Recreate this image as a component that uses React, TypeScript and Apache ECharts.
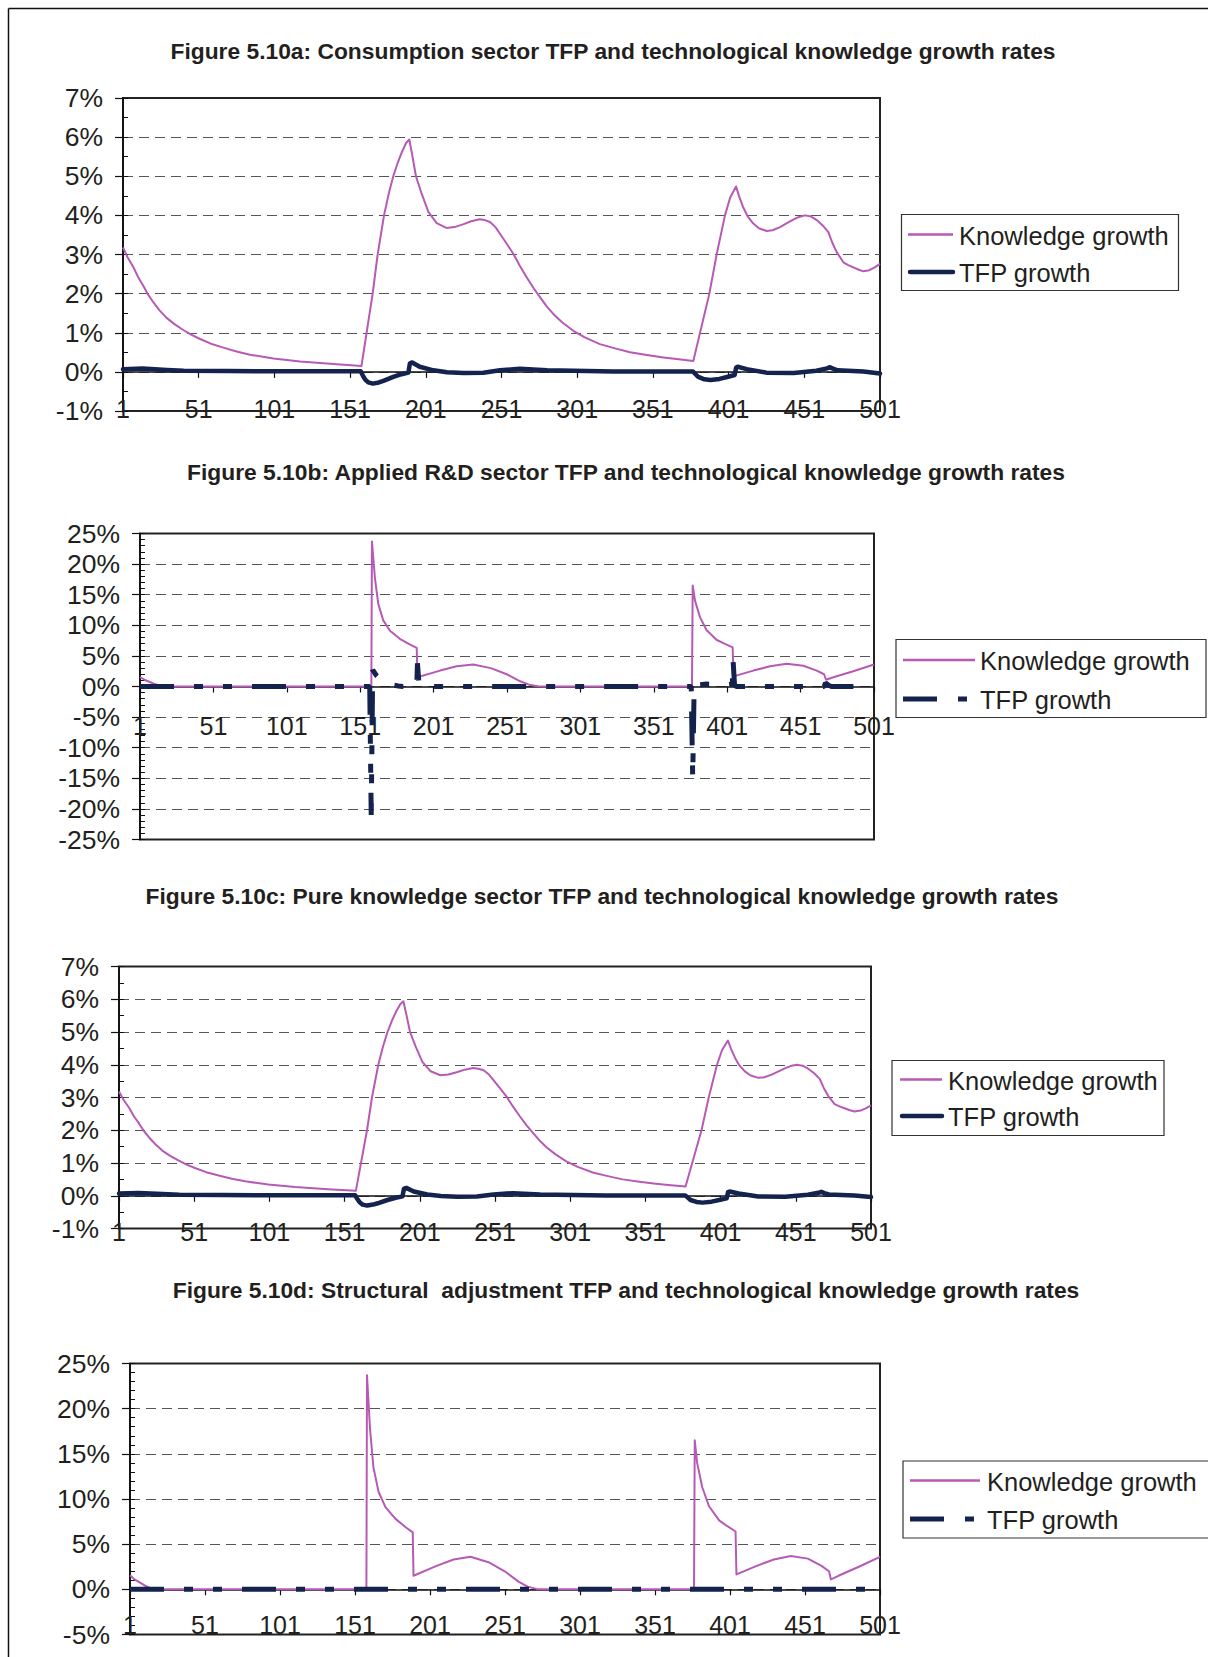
import React, { useEffect, useRef } from "react";
import * as echarts from "echarts";

// ---------- DATA (period, growth rate in %) ----------
const periodMin = 1;
const periodMax = 501;
const periodStep = 50;

const legendLabels = ["Knowledge growth", "TFP growth"];

const figureTitles = [
  "Figure 5.10a: Consumption sector TFP and technological knowledge growth rates",
  "Figure 5.10b: Applied R&D sector TFP and technological knowledge growth rates",
  "Figure 5.10c: Pure knowledge sector TFP and technological knowledge growth rates",
  "Figure 5.10d: Structural  adjustment TFP and technological knowledge growth rates",
];

const knowledgeConsumption: [number, number][] = [
  [1, 3.18], [4, 2.93], [7.8, 2.68], [11, 2.42], [14.4, 2.2], [17.5, 1.98], [21, 1.78], [25, 1.58],
  [29.8, 1.38], [35, 1.22], [40.8, 1.07], [46, 0.95], [51.9, 0.84], [59, 0.72], [67.3, 0.62],
  [76, 0.52], [84.9, 0.44], [100.3, 0.34], [118, 0.265], [140, 0.2], [158.5, 0.15],
  [165.9, 2.0], [169.2, 3.0], [173.4, 4.0], [176.5, 4.55], [179.5, 5.0], [182.5, 5.35], [185, 5.6],
  [188, 5.85], [190.1, 5.94], [192, 5.55], [194.5, 5.0], [198.2, 4.56], [202.7, 4.09], [208.2, 3.8],
  [214.6, 3.68], [220, 3.7], [225.5, 3.77], [231, 3.85], [236.5, 3.9], [240, 3.88], [243.4, 3.83],
  [247, 3.7], [250, 3.53], [254, 3.3], [258.8, 3.02], [263, 2.72], [267.6, 2.42], [272, 2.15],
  [276.4, 1.91], [281, 1.67], [285.2, 1.48], [291, 1.27], [298.4, 1.05], [306, 0.88], [316, 0.71],
  [326, 0.6], [335.9, 0.5], [347, 0.43], [357.9, 0.37], [368, 0.32], [377.7, 0.28],
  [388.3, 2.0], [393.1, 3.0], [398.6, 4.0], [402, 4.45], [405.9, 4.74], [408, 4.48], [410.7, 4.2],
  [413.5, 3.98], [417.3, 3.79], [421, 3.67], [426.2, 3.6], [430, 3.62], [435, 3.7], [439.5, 3.8],
  [443.7, 3.89], [447.5, 3.96], [451.5, 4.0], [455.5, 3.97], [459.2, 3.88], [463, 3.75],
  [466.9, 3.57], [469.5, 3.3], [472.4, 3.06], [476.8, 2.8], [480, 2.73], [483.4, 2.67],
  [487, 2.61], [490, 2.57], [494, 2.6], [497.5, 2.67], [501, 2.76],
];

const tfpConsumption: [number, number][] = [
  [1, 0.07], [14, 0.085], [30, 0.05], [41, 0.03], [70, 0.02], [120, 0.015], [158, 0.015],
  [159.5, -0.1], [161, -0.2], [163, -0.27], [166, -0.3], [170, -0.27], [173, -0.23], [179.5, -0.13],
  [185, -0.06], [189.5, -0.02], [190.5, 0.22], [192, 0.24], [197, 0.13], [206, 0.04], [215, -0.01],
  [226, -0.03], [239, -0.02], [250, 0.04], [263, 0.08], [281, 0.04], [325, 0.01], [377.5, 0.01],
  [379, -0.05], [381, -0.13], [385, -0.19], [389, -0.21], [395, -0.18], [400, -0.13], [405, -0.08],
  [406, 0.11], [407, 0.13], [413, 0.07], [426, -0.02], [444, -0.03], [459, 0.03], [466, 0.09],
  [468, 0.12], [470, 0.08], [473, 0.04], [490, 0.01], [501, -0.04],
];

const knowledgeAppliedRD: [number, number][] = [
  [1, 1.55], [4, 1.1], [7.7, 0.74], [11, 0.4], [14, 0.18], [18, 0.05], [22, 0], [158.6, 0],
  [159, 23.7], [161, 17.8], [163.3, 13.5], [166.7, 10.8], [171.3, 9.1], [178, 7.8], [185, 6.85],
  [189.5, 6.3], [190, 1.5], [205.4, 2.6], [216.7, 3.3], [228, 3.6], [240, 3.0], [250.8, 2.0],
  [260, 0.85], [266, 0.3], [272, 0.05], [278, 0], [377, 0], [377.5, 16.5], [379.1, 14.0],
  [382.5, 11.3], [387, 9.2], [393.9, 7.6], [399.5, 6.96], [404.7, 6.4], [405.3, 1.65],
  [418.8, 2.6], [430.2, 3.3], [441.5, 3.7], [452.9, 3.4], [462, 2.6], [467, 2.0], [468.3, 1.1],
  [473.3, 1.5], [486.9, 2.5], [501, 3.6],
];

const tfpAppliedRD: [number, number][] = [
  [1, 0], [157.5, 0], [158.5, -21], [159.5, 2.7], [162, 1.8], [165.5, 1.0], [171, 0.33],
  [177, 0.08], [180, 0], [189.5, 0], [190, 3.8], [191, 0.6], [192, 0], [376.5, 0], [377.5, -15],
  [378.5, 0.2], [387, 0.4], [401, 0.3], [404.5, 0.4], [405, 4.3], [406, 0.3], [407, 0],
  [467, 0], [468, 0.6], [470, 0.2], [472, 0], [501, 0],
];

const knowledgePure: [number, number][] = knowledgeConsumption.map(([p, v]) => [p, v]);
const tfpPure: [number, number][] = tfpConsumption.map(([p, v]) => [p, v]);

const knowledgeStructural: [number, number][] = knowledgeAppliedRD.map(([p, v]) => [p, v]);
const tfpStructural: [number, number][] = [[1, 0], [501, 0]];

// ---------- STYLE / LAYOUT ----------
const FONT = '"Liberation Sans", Arial, Helvetica, sans-serif';
const TEXT = "#231F20";
const KCOLOR = "#B65AB6";
const TCOLOR = "#14224E";
const DASH = [34, 20, 9, 20, 9, 20];

type Panel = {
  title: string;
  titleX: number;
  titleY: number;
  grid: { left: number; top: number; width: number; height: number };
  yMin: number;
  yMax: number;
  yStep: number;
  minorStep: number;
  knowledge: [number, number][];
  tfp: [number, number][];
  dashed: boolean;
  labelMargin: number;
  legend: {
    x: number; y: number; w: number; h: number;
    l1: number; l2: number; tx: number; r1: number; r2: number;
  };
};

const panels: Panel[] = [
  {
    title: figureTitles[0], titleX: 613, titleY: 51,
    grid: { left: 123, top: 98, width: 757, height: 313 },
    yMin: -1, yMax: 7, yStep: 1, minorStep: 0.5,
    knowledge: knowledgeConsumption, tfp: tfpConsumption, dashed: false, labelMargin: -15,
    legend: { x: 901.5, y: 214.5, w: 277, h: 76, l1: 908, l2: 953, tx: 959, r1: 234.5, r2: 272 },
  },
  {
    title: figureTitles[1], titleX: 626, titleY: 472,
    grid: { left: 140, top: 533.5, width: 734, height: 306 },
    yMin: -25, yMax: 25, yStep: 5, minorStep: 1,
    knowledge: knowledgeAppliedRD, tfp: tfpAppliedRD, dashed: true, labelMargin: -126,
    legend: { x: 896, y: 639.5, w: 310, h: 78, l1: 903, l2: 975, tx: 980, r1: 660, r2: 699 },
  },
  {
    title: figureTitles[2], titleX: 602, titleY: 896,
    grid: { left: 119, top: 966.5, width: 752, height: 262 },
    yMin: -1, yMax: 7, yStep: 1, minorStep: 0.5,
    knowledge: knowledgePure, tfp: tfpPure, dashed: false, labelMargin: -9,
    legend: { x: 892, y: 1060.5, w: 272, h: 75, l1: 900, l2: 942, tx: 948, r1: 1079.5, r2: 1116 },
  },
  {
    title: figureTitles[3], titleX: 626, titleY: 1290,
    grid: { left: 130, top: 1363.5, width: 750, height: 271 },
    yMin: -5, yMax: 25, yStep: 5, minorStep: 1,
    knowledge: knowledgeStructural, tfp: tfpStructural, dashed: true, labelMargin: -22,
    legend: { x: 903, y: 1461, w: 330, h: 77, l1: 910, l2: 980, tx: 987, r1: 1480.5, r2: 1519 },
  },
];

function buildOption() {
  const grids: any[] = [];
  const xAxes: any[] = [];
  const yAxes: any[] = [];
  const series: any[] = [];
  const graphics: any[] = [];

  graphics.push({
    type: "line", silent: true,
    shape: { x1: 8.5, y1: 8.5, x2: 1208, y2: 8.5 },
    style: { stroke: "#111", lineWidth: 1.5 },
  });
  graphics.push({
    type: "line", silent: true,
    shape: { x1: 8.5, y1: 8.5, x2: 8.5, y2: 1657 },
    style: { stroke: "#111", lineWidth: 1.5 },
  });

  panels.forEach((p, i) => {
    grids.push({
      left: p.grid.left, top: p.grid.top, width: p.grid.width, height: p.grid.height,
      show: true, borderColor: "#222", borderWidth: 2, backgroundColor: "#fff",
      containLabel: false,
    });
    xAxes.push({
      gridIndex: i, type: "value", min: periodMin, max: periodMax, interval: periodStep,
      axisLine: { show: true, onZero: true, lineStyle: { color: "#111", width: 1.5 } },
      axisTick: { show: true, length: 6, lineStyle: { color: "#111", width: 1.2 } },
      axisLabel: {
        show: true, margin: p.labelMargin, fontSize: 25, fontFamily: FONT, color: TEXT,
        formatter: (v: number) => String(v),
      },
      splitLine: { show: false },
    });
    yAxes.push({
      gridIndex: i, type: "value", position: "left", min: p.yMin, max: p.yMax, interval: p.yStep,
      axisLine: { show: true, onZero: false, lineStyle: { color: "#111", width: 1.5 } },
      axisTick: { show: true, length: 8, lineStyle: { color: "#111", width: 1.2 } },
      axisLabel: {
        show: true, margin: 20, fontSize: 26.5, fontFamily: FONT, color: TEXT,
        formatter: (v: number) => `${v}%`,
      },
      splitLine: {
        show: true, showMinLine: false, showMaxLine: false,
        lineStyle: { color: "#555", width: 1, type: [10, 6] },
      },
    });
    yAxes.push({
      gridIndex: i, type: "value", position: "left", min: p.yMin, max: p.yMax, interval: p.minorStep,
      axisLine: { show: false, onZero: false },
      axisTick: { show: true, inside: true, length: 5, lineStyle: { color: "#111", width: 1 } },
      axisLabel: { show: false },
      splitLine: { show: false },
    });
    series.push({
      type: "line", name: legendLabels[0], xAxisIndex: i, yAxisIndex: 2 * i,
      data: p.knowledge, symbol: "none", showSymbol: false, silent: true, z: 3,
      lineStyle: { color: KCOLOR, width: 2, join: "round" },
    });
    series.push({
      type: "line", name: legendLabels[1], xAxisIndex: i, yAxisIndex: 2 * i,
      data: p.tfp, symbol: "none", showSymbol: false, silent: true, z: 4,
      lineStyle: p.dashed
        ? { color: TCOLOR, width: 5, type: DASH, cap: "butt" }
        : { color: TCOLOR, width: 4.5, cap: "round", join: "round" },
    });

    // title
    graphics.push({
      type: "text", silent: true, x: p.titleX, y: p.titleY,
      style: {
        text: p.title, fontSize: 22.8, fontWeight: "bold", fontFamily: FONT, fill: TEXT,
        align: "center", verticalAlign: "middle",
      },
    });
    // legend
    const L = p.legend;
    graphics.push({
      type: "rect", silent: true,
      shape: { x: L.x, y: L.y, width: L.w, height: L.h },
      style: { fill: "#fff", stroke: "#333", lineWidth: 1.2 },
    });
    graphics.push({
      type: "line", silent: true,
      shape: { x1: L.l1, y1: L.r1, x2: L.l2, y2: L.r1 },
      style: { stroke: KCOLOR, lineWidth: 2.5 },
    });
    if (p.dashed) {
      graphics.push({
        type: "line", silent: true,
        shape: { x1: L.l1, y1: L.r2, x2: L.l1 + 34, y2: L.r2 },
        style: { stroke: TCOLOR, lineWidth: 5 },
      });
      graphics.push({
        type: "line", silent: true,
        shape: { x1: L.l1 + 55, y1: L.r2, x2: L.l1 + 64, y2: L.r2 },
        style: { stroke: TCOLOR, lineWidth: 5 },
      });
    } else {
      graphics.push({
        type: "line", silent: true,
        shape: { x1: L.l1 + 2, y1: L.r2, x2: L.l2, y2: L.r2 },
        style: { stroke: TCOLOR, lineWidth: 4.5, lineCap: "round" },
      });
    }
    graphics.push({
      type: "text", silent: true, x: L.tx, y: L.r1 + 1,
      style: { text: legendLabels[0], fontSize: 25.5, fontFamily: FONT, fill: TEXT, align: "left", verticalAlign: "middle" },
    });
    graphics.push({
      type: "text", silent: true, x: L.tx, y: L.r2 + 1,
      style: { text: legendLabels[1], fontSize: 25.5, fontFamily: FONT, fill: TEXT, align: "left", verticalAlign: "middle" },
    });
  });

  return {
    animation: false,
    backgroundColor: "#fff",
    grid: grids,
    xAxis: xAxes,
    yAxis: yAxes,
    series,
    graphic: graphics,
  };
}

export default function App() {
  const ref = useRef<HTMLDivElement>(null);
  useEffect(() => {
    if (!ref.current) return;
    const chart = echarts.init(ref.current, undefined, { renderer: "svg" });
    chart.setOption(buildOption() as any);
    return () => {
      chart.dispose();
    };
  }, []);
  return (
    <div
      ref={ref}
      style={{ position: "fixed", left: 0, top: 0, width: 1208, height: 1657, background: "#fff" }}
    />
  );
}
